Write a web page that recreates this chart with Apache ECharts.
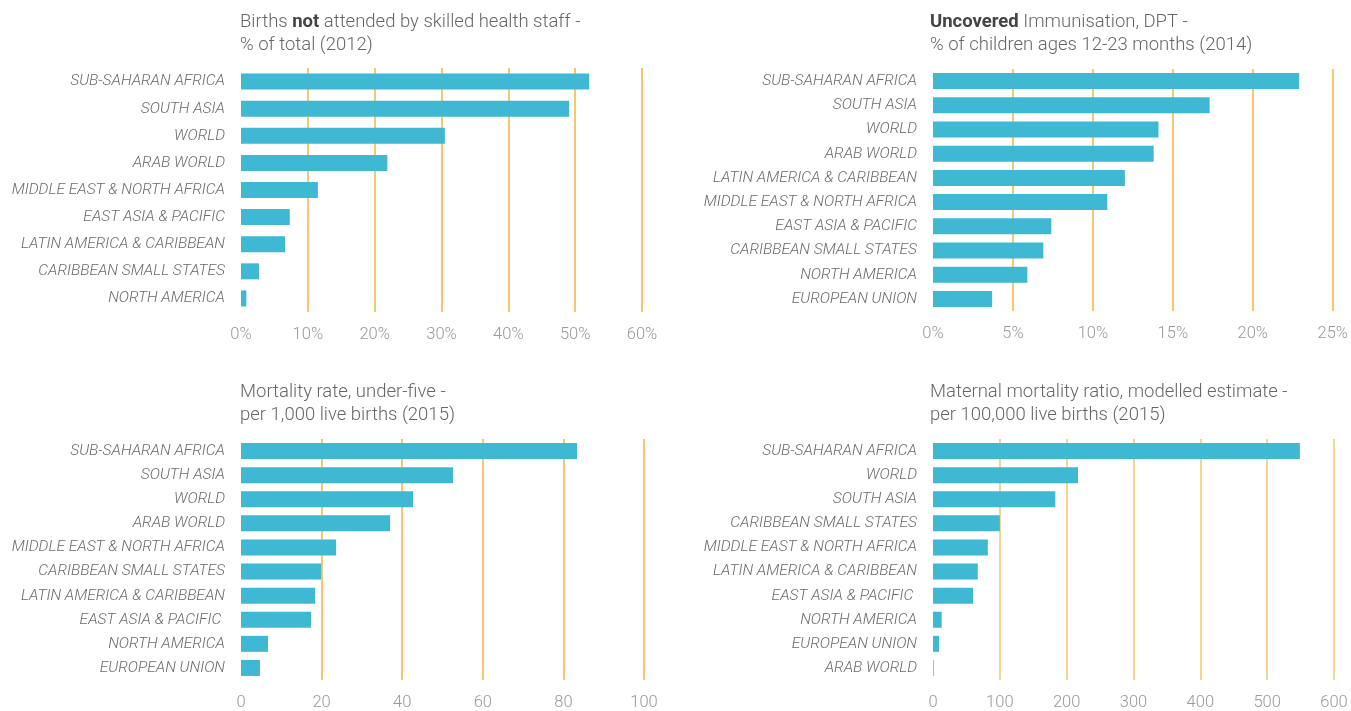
<!DOCTYPE html>
<html>
<head>
<meta charset="utf-8">
<script src="https://cdn.jsdelivr.net/npm/echarts@6/dist/echarts.min.js"></script>
<style>
  html, body { margin: 0; padding: 0; background: #fff; }
  #chart { width: 1351px; height: 711px; }
</style>
</head>
<body>
<div id="chart"></div>
<script>
// births not attended by skilled staff, % (2012)
const birthsCats = ['SUB-SAHARAN AFRICA', 'SOUTH ASIA', 'WORLD', 'ARAB WORLD', 'MIDDLE EAST & NORTH AFRICA',
  'EAST ASIA & PACIFIC', 'LATIN AMERICA & CARIBBEAN', 'CARIBBEAN SMALL STATES', 'NORTH AMERICA']
const birthsVals = [52.1, 49.1, 30.5, 21.9, 11.5, 7.3, 6.6, 2.7, 0.8]

// uncovered DPT immunisation, % (2014)
const dptCats = ['SUB-SAHARAN AFRICA', 'SOUTH ASIA', 'WORLD', 'ARAB WORLD', 'LATIN AMERICA & CARIBBEAN',
  'MIDDLE EAST & NORTH AFRICA', 'EAST ASIA & PACIFIC', 'CARIBBEAN SMALL STATES', 'NORTH AMERICA', 'EUROPEAN UNION']
const dptVals = [22.9, 17.3, 14.1, 13.8, 12.0, 10.9, 7.4, 6.9, 5.9, 3.7]

// under-five mortality per 1,000 (2015)
const u5Cats = ['SUB-SAHARAN AFRICA', 'SOUTH ASIA', 'WORLD', 'ARAB WORLD', 'MIDDLE EAST & NORTH AFRICA',
  'CARIBBEAN SMALL STATES', 'LATIN AMERICA & CARIBBEAN', 'EAST ASIA & PACIFIC ', 'NORTH AMERICA', 'EUROPEAN UNION']
const u5Vals = [83.4, 52.6, 42.7, 37.0, 23.6, 19.9, 18.4, 17.4, 6.7, 4.7]

// maternal mortality per 100,000 (2015)
const matCats = ['SUB-SAHARAN AFRICA', 'WORLD', 'SOUTH ASIA', 'CARIBBEAN SMALL STATES', 'MIDDLE EAST & NORTH AFRICA',
  'LATIN AMERICA & CARIBBEAN', 'EAST ASIA & PACIFIC ', 'NORTH AMERICA', 'EUROPEAN UNION', 'ARAB WORLD']
const matVals = [549, 217, 183, 100, 82, 67, 60, 13, 9, 1]

const barColor = '#3EB8D3'
const gridColor = '#F6B43A'
const fontFamily = 'Roboto, sans-serif'

const chart = echarts.init(document.getElementById('chart'))

const grids = [
  { left: 241, width: 401, top: 68, height: 244 },
  { left: 933, width: 401, top: 69, height: 242 },
  { left: 241, width: 403, top: 439, height: 243 },
  { left: 933, width: 401, top: 439, height: 243 }
]

const xMax = [60, 25, 100, 600]
const xStep = [10, 5, 20, 100]
const xFmt = [v => v + '%', v => v + '%', v => v, v => v]
const cats = [birthsCats, dptCats, u5Cats, matCats]
const vals = [birthsVals, dptVals, u5Vals, matVals]

const titleStyle = {
  fontFamily: fontFamily,
  fontSize: 18.5,
  fontWeight: 300,
  color: '#666',
  lineHeight: 23,
  rich: {
    b: { fontFamily: fontFamily, fontSize: 18.5, fontWeight: 'bold', color: '#444', lineHeight: 23 }
  }
}

const option = {
  animation: false,
  title: [
    { text: 'Births {b|not} attended by skilled health staff -\n% of total (2012)', left: 240, top: 11 },
    { text: '{b|Uncovered} Immunisation, DPT -\n% of children ages 12-23 months (2014)', left: 930, top: 11 },
    { text: 'Mortality rate, under-five -\nper 1,000 live births (2015)', left: 240, top: 381 },
    { text: 'Maternal mortality ratio, modelled estimate -\nper 100,000 live births (2015)', left: 930, top: 381 }
  ].map(t => Object.assign(t, { padding: 0, textStyle: titleStyle })),
  grid: grids.map(g => Object.assign({}, g, { containLabel: false })),
  xAxis: grids.map((g, i) => ({
    type: 'value',
    gridIndex: i,
    min: 0,
    max: xMax[i],
    interval: xStep[i],
    axisLine: { show: false },
    axisTick: { show: false },
    axisLabel: {
      margin: 14,
      fontFamily: fontFamily,
      fontWeight: 300,
      fontSize: 16.5,
      color: '#999',
      formatter: xFmt[i]
    },
    splitLine: {
      show: true,
      showMinLine: false,
      lineStyle: { color: i === 3 ? '#F8C568' : gridColor, width: 1.5 }
    }
  })),
  yAxis: grids.map((g, i) => ({
    type: 'category',
    gridIndex: i,
    inverse: true,
    data: cats[i],
    axisLine: { show: false },
    axisTick: { show: false },
    axisLabel: {
      margin: 16,
      fontFamily: fontFamily,
      fontStyle: 'italic',
      fontWeight: 300,
      fontSize: 15.5,
      color: '#6a6a6a'
    }
  })),
  series: grids.map((g, i) => ({
    type: 'bar',
    xAxisIndex: i,
    yAxisIndex: i,
    data: vals[i],
    barWidth: 16,
    itemStyle: { color: barColor },
    z: 3
  }))
}

chart.setOption(option)
</script>
</body>
</html>
